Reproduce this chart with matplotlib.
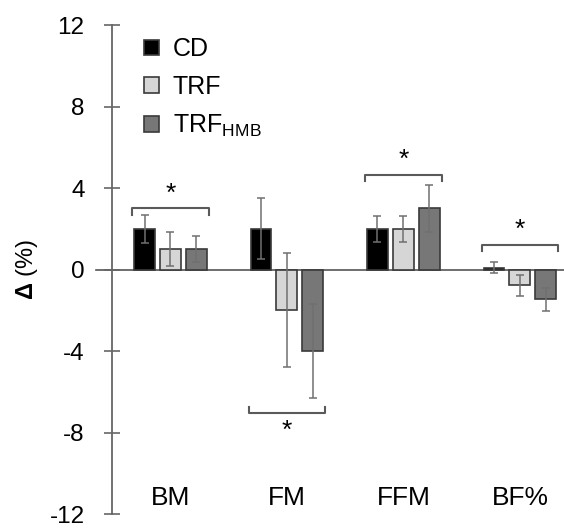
import numpy as np
import matplotlib.pyplot as plt

plt.rcParams['font.family'] = ['Liberation Sans', 'DejaVu Sans']
plt.rcParams['mathtext.fontset'] = 'custom'
plt.rcParams['mathtext.rm'] = 'Liberation Sans'
plt.rcParams['mathtext.bf'] = 'Liberation Sans:bold'

categories = ['BM', 'FM', 'FFM', 'BF%']
series = ['CD', 'TRF', 'TRF$_{\\mathregular{HMB}}$']
means = {
    'CD':  [2.0, 2.0, 2.0, 0.1],
    'TRF': [1.0, -2.0, 2.0, -0.78],
    'HMB': [1.0, -4.0, 3.0, -1.47],
}
errs = {
    'CD':  [0.7, 1.5, 0.63, 0.26],
    'TRF': [0.85, 2.8, 0.63, 0.5],
    'HMB': [0.65, 2.3, 1.15, 0.55],
}
# significance brackets: (group index, level, side)
brackets = [(0, 3.0, 'above'), (1, -7.05, 'below'), (2, 4.65, 'above'), (3, 1.2, 'above')]

colors = ['#000000', '#d6d6d6', '#777777']
keys = ['CD', 'TRF', 'HMB']

fig = plt.figure(figsize=(5.64, 5.28), dpi=100)
ax = fig.add_axes([0.1986, 0.0265, 0.8014, 0.926])

x = np.arange(len(categories))
width = 0.18
offset = 0.223
for i, k in enumerate(keys):
    ax.bar(x + (i - 1) * offset, means[k], width, color=colors[i],
           edgecolor='#3a3a3a', linewidth=1.2, label=series[i], zorder=2)
    ax.errorbar(x + (i - 1) * offset, means[k], yerr=errs[k], fmt='none',
                ecolor='#707070', elinewidth=1.1, capsize=3, capthick=1.1, zorder=3)

# zero line
ax.axhline(0, xmin=-0.035, xmax=1, color='#555555', linewidth=1.2, clip_on=False, zorder=1)

# brackets with asterisks
half = 0.33
hook = 0.3
for g, lvl, side in brackets:
    d = -hook if side == 'above' else hook
    ax.plot([g - half, g - half, g + half, g + half], [lvl + d, lvl, lvl, lvl + d],
            color='#5a5a5a', linewidth=1.5, zorder=3)
    ty = lvl + 0.15 if side == 'above' else lvl - 1.45
    ax.text(g, ty, '*', ha='center', va='bottom', fontsize=19)

# category labels
for i, c in enumerate(categories):
    ax.text(i, -11.2, c, ha='center', va='center', fontsize=19)

ax.set_xlim(-0.502, 3.378)
ax.set_ylim(-12, 12)
ax.set_yticks([-12, -8, -4, 0, 4, 8, 12])
ax.set_yticklabels(['-12', '-8', '-4', '0', '4', '8', '12'], fontsize=17.5)
ax.set_xticks([])
ax.tick_params(axis='y', direction='inout', length=11.5, width=1.2, color='#666666', pad=14)
for s in ['top', 'right', 'bottom']:
    ax.spines[s].set_visible(False)
ax.spines['left'].set_color('#666666')
ax.spines['left'].set_linewidth(1.3)

ax.set_ylabel('$\\mathbf{\\Delta}$ (%)', fontsize=17)
ax.yaxis.set_label_coords(-0.16, 0.5)

ax.legend(loc='upper left', bbox_to_anchor=(0.071, 0.975), frameon=False, fontsize=18,
          borderpad=0, borderaxespad=0,
          handlelength=0.6, handleheight=0.6, handletextpad=0.55, labelspacing=0.55)

fig.savefig('out.png', dpi=100)
